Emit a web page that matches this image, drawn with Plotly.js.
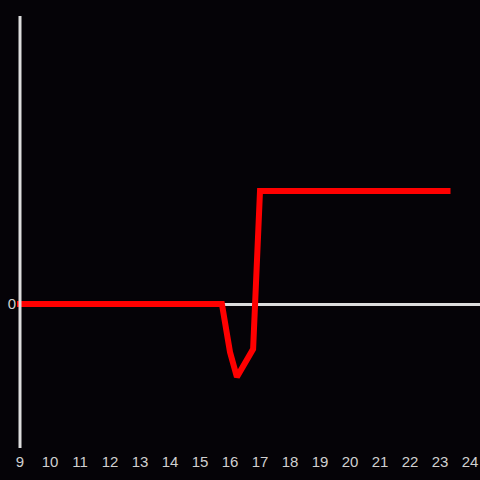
<!DOCTYPE html>
<html>
<head>
<script src="https://cdn.plot.ly/plotly-3.0.1.min.js"></script>
<style>html,body{margin:0;padding:0;background:#050307;}</style>
</head>
<body>
<div id="chart" style="width:480px;height:480px;"></div>
<script>
const hours = [8.9, 15.73, 16.0, 16.23, 16.77, 16.87, 17.0, 23.35];
const values = [0, 0, -0.425, -0.646, -0.398, 0.17, 1, 1];
const xTicks = [9,10,11,12,13,14,15,16,17,18,19,20,21,22,23,24];

Plotly.newPlot('chart', [{
  x: hours, y: values, type: 'scatter', mode: 'lines',
  line: {color: '#ff0000', width: 6}, hoverinfo: 'none'
}], {
  width: 480, height: 480,
  paper_bgcolor: '#050307', plot_bgcolor: '#050307',
  margin: {l: 17, r: 0, t: 16, b: 32},
  showlegend: false,
  font: {family: 'Liberation Sans, Arial, sans-serif', color: '#d0d0d0', size: 15},
  xaxis: {range: [8.9, 24.333], tickvals: xTicks, ticktext: xTicks.map(String),
          showgrid: false, zeroline: false, showline: false, ticks: '', ticklabelstandoff: 3,
          tickfont: {family: 'Liberation Sans, Arial, sans-serif', color: '#d0d0d0', size: 15}},
  yaxis: {range: [-1.274, 2.549], tickvals: [0], ticktext: ['0'],
          showgrid: false, zeroline: true, zerolinecolor: '#dddddd', zerolinewidth: 3,
          showline: false, ticks: '', ticklabelstandoff: 0,
          tickfont: {family: 'Liberation Sans, Arial, sans-serif', color: '#d0d0d0', size: 15}},
  shapes: [{type: 'line', xref: 'x', yref: 'paper', x0: 9, x1: 9, y0: 0, y1: 1,
            layer: 'above', line: {color: '#dddddd', width: 3}}]
}, {staticPlot: true});
</script>
</body>
</html>
